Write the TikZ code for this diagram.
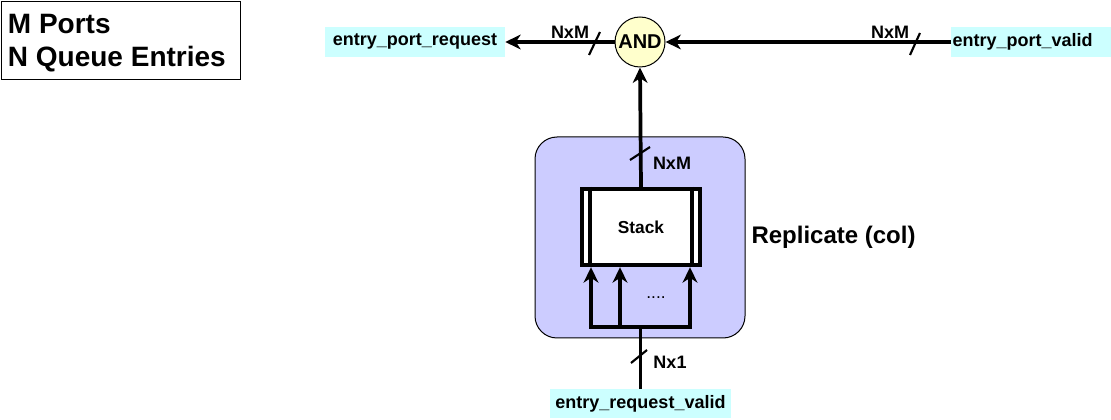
\documentclass[tikz,border=0pt]{standalone}
\usepackage{fontspec}
\setmainfont{Liberation Sans}
\usetikzlibrary{calc,positioning}
\usetikzlibrary{arrows.meta}
\tikzset{>={Stealth[length=11.5pt,width=11pt,inset=3.5pt]}}
\definecolor{repfill}{RGB}{204,204,255}
\definecolor{andfill}{RGB}{255,255,204}
\definecolor{sigfill}{RGB}{204,255,255}

\begin{document}
\begin{tikzpicture}[x=0.75pt,y=-0.75pt]
          \tikzstyle{sig} = [fill=sigfill, inner sep=1pt, minimum height=22pt, font=\fontsize{13.5}{16}\selectfont\bfseries]
          \tikzstyle{lbl} = [inner sep=1pt, font=\fontsize{13.5}{16}\selectfont\bfseries]
          \tikzstyle{wire} = [line width=2.8pt]
          \tikzstyle{slash} = [line width=1.6pt]
          \useasboundingbox (0,0) rectangle (1111,420);

          \node[draw, line width=0.75pt, anchor=north west, minimum width=179pt, minimum height=58.5pt] (info) at (1,1) {};
          \node[anchor=west, inner sep=0pt, align=left, font=\fontsize{21}{24.75}\selectfont\bfseries] (infotxt) at ([xshift=5pt,yshift=-2pt]info.west) {M Ports\\N Queue Entries};

          \node[sig, minimum width=135pt] (preq) at (415,42) {entry\_port\_request};
          \node[sig, anchor=west, text width=118pt, align=left] (pval) at (951,42) {entry\_port\_valid};
          \node[draw, circle, fill=andfill, line width=0.75pt, minimum size=37.5pt, inner sep=0pt, font=\fontsize{15}{18}\selectfont\bfseries] (and) at (640,42) {AND};

          \node[draw, fill=repfill, line width=0.75pt, rounded corners=16.5pt, minimum width=157.5pt, minimum height=150.75pt] (rep) at (640,237.5) {};
          \node[right=1pt of rep, font=\fontsize{18}{21}\selectfont\bfseries] (reptxt) {Replicate (col)};
          \node[draw, fill=white, line width=2.8pt, minimum width=89pt, minimum height=57.5pt, font=\fontsize{13}{16}\selectfont\bfseries] (stack) at (641,227) {Stack};
          \draw[wire] ([xshift=7.5pt]stack.north west) -- ([xshift=7.5pt]stack.south west);
          \draw[wire] ([xshift=-7.5pt]stack.north east) -- ([xshift=-7.5pt]stack.south east);
          \node[font=\fontsize{13}{15}\selectfont] (dots) at (656,298) {....};

          \node[sig, minimum width=136pt] (rval) at (640.5,403.5) {entry\_request\_valid};

          \coordinate (jm) at (640.5,327);
          \coordinate (j1) at (591,327);
          \coordinate (j2) at (620,327);
          \coordinate (j3) at (690,327);

          \draw[wire] (rval.north) -- (jm);
          \draw[wire,->] (jm) -- (j1) -- (j1 |- stack.south);
          \draw[wire,->] (jm) -- (j3) -- (j3 |- stack.south);
          \draw[wire,->] (j2) -- (j2 |- stack.south);
          \draw[wire,->] (stack.north) -- (and.south);
          \draw[wire,->] (and.west) -- (preq.east);
          \draw[wire,->] (pval.west) -- (and.east);

          % bus width marks
          \foreach \xa/\ya/\xb/\yb in {589/55/600/32, 910/55/920/33, 630/160/650/147, 631/363/647/350}
            \draw[slash] (\xa,\ya) -- (\xb,\yb);

          \node[lbl] (nxml) at (570,32) {NxM};
          \node[lbl] (nxmr) at (890,32) {NxM};
          \node[lbl] (nxmv) at (672,163) {NxM};
          \node[lbl] (nx1) at (670,362) {Nx1};
        \end{tikzpicture}
\end{document}
